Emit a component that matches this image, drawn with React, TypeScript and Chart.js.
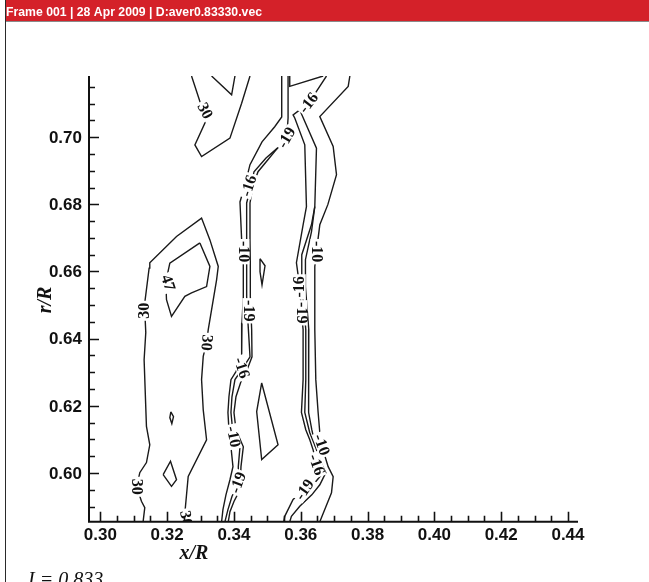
import React, { useEffect, useRef } from "react";
import { Chart, registerables } from "chart.js";

Chart.register(...registerables);

type Pt = [number, number];

// Plot window (x/R, r/R)
const xRange: Pt = [0.2966, 0.443];
const yRange: Pt = [0.5855, 0.7182];

// Axis ticks
const xMajorTicks = [0.3, 0.32, 0.34, 0.36, 0.38, 0.4, 0.42, 0.44];
const xTickLabels = ["0.30", "0.32", "0.34", "0.36", "0.38", "0.40", "0.42", "0.44"];
const yMajorTicks = [0.6, 0.62, 0.64, 0.66, 0.68, 0.7];
const yTickLabels = ["0.60", "0.62", "0.64", "0.66", "0.68", "0.70"];
const minorStep = 0.005;

// Contour level 30, upper-left branch
const c30Upper: Pt[] = [
  [0.3273, 0.7182], [0.3298, 0.7106], [0.3313, 0.7078], [0.3313, 0.7042], [0.3283, 0.6977],
  [0.3303, 0.6942], [0.3388, 0.6997], [0.3423, 0.7101], [0.3448, 0.7182],
];
const c30Notch: Pt[] = [[0.3333, 0.7182], [0.3393, 0.7126], [0.3403, 0.7182]];

// Contour level 30, large lobe on the left
const c30Lobe: Pt[] = [
  [0.3128, 0.5855], [0.3133, 0.5897], [0.3123, 0.5916], [0.3109, 0.5959], [0.3118, 0.6001],
  [0.3138, 0.6031], [0.3148, 0.6084], [0.3138, 0.6139], [0.3131, 0.6337], [0.3136, 0.6418],
  [0.3133, 0.6483], [0.3133, 0.6507], [0.3146, 0.661], [0.3148, 0.6626], [0.3228, 0.6704],
  [0.3303, 0.6759], [0.3328, 0.6694], [0.3353, 0.6615], [0.3348, 0.6575], [0.3323, 0.6427],
  [0.3318, 0.6388], [0.3308, 0.6347], [0.3303, 0.6278], [0.3308, 0.6188], [0.3318, 0.6099],
  [0.3263, 0.599], [0.3253, 0.5881], [0.3256, 0.5855],
];

// Contour level 47, closed loop inside the lobe
const c47Loop: Pt[] = [
  [0.3298, 0.6685], [0.3328, 0.6615], [0.3318, 0.6555], [0.3273, 0.6536], [0.3253, 0.6526],
  [0.3213, 0.6466], [0.3198, 0.6516], [0.3196, 0.6569], [0.3208, 0.6625], [0.3298, 0.6685],
];

// Small closed islands
const islandA: Pt[] = [[0.3211, 0.6182], [0.3219, 0.6168], [0.3214, 0.6147], [0.3208, 0.6165], [0.3211, 0.6182]];
const islandB: Pt[] = [[0.3188, 0.5995], [0.321, 0.6035], [0.3228, 0.598], [0.3213, 0.596], [0.3188, 0.5995]];
const islandC: Pt[] = [[0.3478, 0.6638], [0.3493, 0.6617], [0.3484, 0.656], [0.3478, 0.6599], [0.3478, 0.6638]];
const islandD: Pt[] = [[0.3483, 0.6268], [0.3532, 0.6084], [0.3483, 0.604], [0.3468, 0.6183], [0.3483, 0.6268]];

// Left band of negative levels (-10 / -16 / -19)
const leftBandA: Pt[] = [
  [0.3543, 0.7182], [0.3543, 0.706], [0.3522, 0.7031], [0.3484, 0.6986], [0.3448, 0.6918],
  [0.3433, 0.6858], [0.3418, 0.6807], [0.3423, 0.6694], [0.3428, 0.662], [0.3428, 0.6525],
  [0.3424, 0.6447], [0.3423, 0.6337], [0.3406, 0.6302], [0.3391, 0.6278], [0.3385, 0.6227],
  [0.3382, 0.618], [0.3385, 0.6129], [0.3391, 0.6078], [0.3397, 0.6019], [0.3388, 0.598],
  [0.3376, 0.5935], [0.3367, 0.5891], [0.3363, 0.5855],
];
const leftBandB: Pt[] = [
  [0.3562, 0.7182], [0.3562, 0.7057], [0.3558, 0.6998], [0.3531, 0.6968], [0.3496, 0.6938],
  [0.346, 0.6897], [0.3451, 0.6855], [0.3438, 0.6804], [0.3438, 0.6694], [0.3438, 0.662],
  [0.3438, 0.6525], [0.3442, 0.6447], [0.3445, 0.6397], [0.3448, 0.6346], [0.3427, 0.6313],
  [0.3403, 0.6278], [0.3394, 0.6227], [0.3391, 0.618], [0.3398, 0.6108], [0.3418, 0.6078],
  [0.3413, 0.6019], [0.3413, 0.5971], [0.3394, 0.593], [0.3382, 0.5891], [0.3373, 0.5855],
];
const leftBandC: Pt[] = [
  [0.3531, 0.6968], [0.3501, 0.6932], [0.3472, 0.6897], [0.3457, 0.6855], [0.3448, 0.6804],
  [0.3448, 0.6694], [0.3449, 0.662], [0.3449, 0.6525], [0.3453, 0.6427], [0.3454, 0.6346],
  [0.3439, 0.6307], [0.3423, 0.6278], [0.3406, 0.6227], [0.34, 0.618], [0.3406, 0.6129],
  [0.3428, 0.6078], [0.3421, 0.6019], [0.3418, 0.595], [0.34, 0.5915], [0.3388, 0.5885],
  [0.3383, 0.5855],
];

// Right band of negative levels
const rightBandCap: Pt[] = [[0.3567, 0.7182], [0.3567, 0.7151], [0.3667, 0.7182]];
const rightBandA: Pt[] = [
  [0.3677, 0.7182], [0.3647, 0.7136], [0.3624, 0.7102], [0.3597, 0.7081], [0.3577, 0.7066],
  [0.3582, 0.7057], [0.3612, 0.6977], [0.3617, 0.6793], [0.3607, 0.6739], [0.3587, 0.6626],
  [0.3592, 0.659], [0.3597, 0.6554], [0.3602, 0.6477], [0.3607, 0.6427], [0.3607, 0.6278],
  [0.3602, 0.618], [0.3615, 0.6129], [0.3627, 0.6099], [0.3637, 0.6069], [0.3647, 0.6025],
  [0.3667, 0.6001], [0.3647, 0.5977], [0.3632, 0.5959], [0.3612, 0.595], [0.3577, 0.5921],
  [0.3552, 0.5871], [0.3549, 0.5855],
];
const rightBandB: Pt[] = [
  [0.3597, 0.7081], [0.3647, 0.6967], [0.3642, 0.6793], [0.3632, 0.6739], [0.3603, 0.665],
  [0.3603, 0.6554], [0.3611, 0.6477], [0.3615, 0.6427], [0.3615, 0.6278], [0.3612, 0.618],
  [0.3627, 0.612], [0.3645, 0.6075], [0.366, 0.6031], [0.3675, 0.6001], [0.3657, 0.5965],
  [0.3633, 0.5935], [0.3597, 0.5901], [0.3572, 0.5871], [0.3567, 0.5855],
];
const rightBandD: Pt[] = [
  [0.3642, 0.6793], [0.3632, 0.6718], [0.3614, 0.6635], [0.3614, 0.6554], [0.362, 0.6477],
  [0.3624, 0.6427], [0.3624, 0.6278], [0.3623, 0.618], [0.3633, 0.6129], [0.3645, 0.6075],
];
const rightBandC: Pt[] = [
  [0.3747, 0.7182], [0.3742, 0.7151], [0.3657, 0.7061], [0.3697, 0.6972], [0.3707, 0.6888],
  [0.3681, 0.6799], [0.3657, 0.6739], [0.3647, 0.6659], [0.3642, 0.6614], [0.3642, 0.6427],
  [0.3645, 0.6278], [0.3652, 0.618], [0.3657, 0.612], [0.3662, 0.6084], [0.3682, 0.6019],
  [0.3697, 0.5989], [0.3692, 0.5941], [0.3657, 0.5855],
];

const contourLines: Pt[][] = [
  c30Upper, c30Notch, c30Lobe, c47Loop, islandA, islandB, islandC, islandD,
  leftBandA, leftBandB, leftBandC, rightBandCap, rightBandA, rightBandB, rightBandD, rightBandC,
];

// Contour labels: text, x/R, r/R, rotation (deg)
const contourLabels: [string, number, number, number][] = [
  ["30", 0.3313, 0.7078, 62],
  ["30", 0.3109, 0.5959, 90],
  ["30", 0.3133, 0.6483, -90],
  ["30", 0.3318, 0.6388, 95],
  ["30", 0.3256, 0.5864, 80],
  ["47", 0.3202, 0.6566, 72],
  ["-16", 0.3445, 0.6855, -72],
  ["-19", 0.3558, 0.6998, -60],
  ["-16", 0.3624, 0.7102, -52],
  ["-10", 0.3428, 0.6659, 90],
  ["-19", 0.3443, 0.6483, 90],
  ["-16", 0.3423, 0.6313, 72],
  ["-10", 0.3398, 0.6108, 78],
  ["-19", 0.3413, 0.5971, -70],
  ["-10", 0.3647, 0.6659, 90],
  ["-16", 0.3597, 0.6554, -90],
  ["-19", 0.3602, 0.6477, 90],
  ["-10", 0.3662, 0.6084, 70],
  ["-16", 0.3647, 0.6025, 70],
  ["-19", 0.3612, 0.595, -55],
];

const headerText = "Frame 001 | 28 Apr 2009 | D:aver0.83330.vec";
const xTitle = "x/R";
const yTitle = "r/R";
const footerText = "I = 0.833";

const LINE_COLOR = "#1a1a1a";

const framePlugin = {
  id: "tecplotFrame",
  beforeDraw(chart: any) {
    const { ctx, width, height } = chart;
    ctx.save();
    ctx.fillStyle = "#ffffff";
    ctx.fillRect(0, 0, width, height);

    // header bar
    ctx.fillStyle = "#d42129";
    ctx.fillRect(5, 0, width - 5, 21);
    ctx.fillStyle = "#8a8a8a";
    ctx.fillRect(5, 21, width - 5, 1);
    ctx.fillStyle = "#2a2a2a";
    ctx.fillRect(5, 0, 1, height);

    ctx.font = 'bold 13px "Liberation Sans", Arial, sans-serif';
    const w = ctx.measureText(headerText).width;
    const target = 256;
    ctx.save();
    ctx.translate(6, 15.5);
    ctx.scale(target / w, 1);
    ctx.fillStyle = "#ffffff";
    ctx.textBaseline = "alphabetic";
    ctx.fillText(headerText, 0, 0);
    ctx.restore();

    // footer text
    ctx.font = 'italic 20px "Liberation Serif", "Times New Roman", serif';
    ctx.fillStyle = "#111";
    ctx.textBaseline = "alphabetic";
    ctx.textAlign = "left";
    ctx.fillText(footerText, 28, 586);
    ctx.restore();
  },
  afterDatasetsDraw(chart: any) {
    const { ctx, chartArea } = chart;
    const xs = chart.scales.x;
    const ys = chart.scales.y;
    const { left, right, top, bottom } = chartArea;

    // contour labels, knocked out of the lines
    ctx.save();
    ctx.beginPath();
    ctx.rect(left, top, right - left, bottom - top);
    ctx.clip();
    ctx.font = 'bold 16px "Liberation Serif", "Times New Roman", serif';
    ctx.textAlign = "center";
    ctx.textBaseline = "middle";
    for (const [text, vx, vy, ang] of contourLabels) {
      const px = xs.getPixelForValue(vx);
      const py = ys.getPixelForValue(vy);
      ctx.save();
      ctx.translate(px, py);
      ctx.rotate((ang * Math.PI) / 180);
      const tw = ctx.measureText(text).width;
      ctx.fillStyle = "#ffffff";
      ctx.fillRect(-tw / 2 - 2, -6, tw + 4, 12);
      ctx.fillStyle = "#111";
      ctx.fillText(text, 0, 0.5);
      ctx.restore();
    }
    ctx.restore();

    // axes
    ctx.save();
    ctx.strokeStyle = "#111";
    ctx.lineWidth = 2;
    ctx.beginPath();
    ctx.moveTo(left, top);
    ctx.lineTo(left, bottom);
    ctx.lineTo(right, bottom);
    ctx.stroke();

    const isMajor = (v: number, majors: number[]) => majors.some((m) => Math.abs(m - v) < 1e-6);

    ctx.lineWidth = 1.6;
    ctx.beginPath();
    for (let k = Math.ceil(xRange[0] / minorStep); k * minorStep <= xRange[1] + 1e-9; k++) {
      const v = k * minorStep;
      const px = Math.round(xs.getPixelForValue(v)) + 0.5;
      const len = isMajor(v, xMajorTicks) ? 10 : 6;
      ctx.moveTo(px, bottom);
      ctx.lineTo(px, bottom - len);
    }
    for (let k = Math.ceil(yRange[0] / minorStep); k * minorStep <= yRange[1] + 1e-9; k++) {
      const v = k * minorStep;
      const py = Math.round(ys.getPixelForValue(v)) + 0.5;
      const len = isMajor(v, yMajorTicks) ? 10 : 6;
      ctx.moveTo(left, py);
      ctx.lineTo(left + len, py);
    }
    ctx.stroke();

    // tick labels
    ctx.fillStyle = "#111";
    ctx.font = 'bold 17px "Liberation Sans", Arial, sans-serif';
    ctx.textBaseline = "middle";
    ctx.textAlign = "center";
    xMajorTicks.forEach((v, i) => {
      ctx.fillText(xTickLabels[i], xs.getPixelForValue(v), bottom + 14);
    });
    ctx.textAlign = "right";
    yMajorTicks.forEach((v, i) => {
      ctx.fillText(yTickLabels[i], left - 7, ys.getPixelForValue(v) + 1);
    });

    // axis titles
    ctx.font = 'bold italic 20px "Liberation Serif", "Times New Roman", serif';
    ctx.textAlign = "center";
    ctx.textBaseline = "alphabetic";
    ctx.fillText(xTitle, 194, 559);
    ctx.save();
    ctx.translate(51, 300);
    ctx.rotate(-Math.PI / 2);
    ctx.fillText(yTitle, 0, 0);
    ctx.restore();
    ctx.restore();
  },
};

export default function App() {
  const canvasRef = useRef<HTMLCanvasElement | null>(null);

  useEffect(() => {
    const canvas = canvasRef.current;
    if (!canvas) return;
    const chart = new Chart(canvas, {
      type: "scatter",
      data: {
        datasets: contourLines.map((line) => ({
          data: line.map(([x, y]) => ({ x, y })),
          showLine: true,
          borderColor: LINE_COLOR,
          borderWidth: 1.4,
          pointRadius: 0,
          fill: false,
          tension: 0,
        })),
      },
      options: {
        responsive: false,
        animation: false,
        events: [],
        layout: { padding: { left: 89, top: 76, right: 71, bottom: 60.3 } },
        plugins: { legend: { display: false }, tooltip: { enabled: false } },
        scales: {
          x: { type: "linear", min: xRange[0], max: xRange[1], display: false },
          y: { type: "linear", min: yRange[0], max: yRange[1], display: false },
        },
      },
      plugins: [framePlugin],
    });
    return () => chart.destroy();
  }, []);

  return (
    <div style={{ position: "absolute", left: 0, top: 0, width: 649, height: 582, background: "#fff" }}>
      <canvas ref={canvasRef} width={649} height={582} style={{ display: "block" }} />
    </div>
  );
}
